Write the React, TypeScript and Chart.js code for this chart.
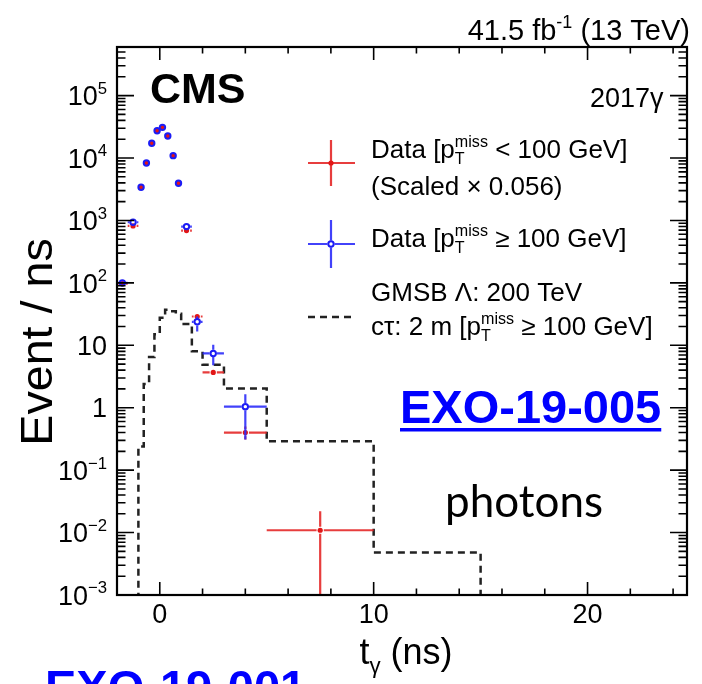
import React, { useEffect, useRef } from 'react';
import { Chart, registerables } from 'chart.js';

Chart.register(...registerables);

// ---------- axis ranges ----------
const X_MIN = -2;
const X_MAX = 24.65;
const Y_MIN = 1e-3;
const Y_MAX = 6e5;
const Y_FLOOR = 1e-6; // zero-content bins are drawn at the floor (below the axis), as ROOT does

// ---------- tick labels ----------
const xTickValues = [0, 10, 20];
const yTickExponents = [-3, -2, -1, 0, 1, 2, 3, 4, 5];

// ---------- data binning (ns) ----------
const binLow = [-2, -1.5, -1, -0.75, -0.5, -0.25, 0, 0.25, 0.5, 0.75, 1, 1.5, 2, 3, 5];
const binHigh = [-1.5, -1, -0.75, -0.5, -0.25, 0, 0.25, 0.5, 0.75, 1, 1.5, 2, 3, 5, 10];
const binCenter = [-1.75, -1.25, -0.875, -0.625, -0.375, -0.125, 0.125, 0.375, 0.625, 0.875, 1.25, 1.75, 2.5, 4, 7.5];

// Data [pT miss < 100 GeV] (scaled x 0.056), events / ns
const redValues = [97, 817, 3400, 8320, 17200, 27400, 31000, 22500, 10900, 3940, 687, 28.9, 3.67, 0.40, 0.0109];
const redErrLow = [90, 800, 3380, 8290, 17160, 27350, 30950, 22460, 10870, 3920, 678, 27.2, 3.25, 0.31, 0];
const redErrHigh = [104, 834, 3420, 8350, 17240, 27450, 31050, 22540, 10930, 3960, 696, 30.6, 4.1, 0.50, 0.0219];

// Data [pT miss >= 100 GeV], events / ns
const blueValues = [100, 935, 3400, 8320, 17200, 27400, 31000, 22500, 10900, 3940, 796, 23.8, 7.4, 1.04, null];
const blueErrLow = [86, 893, 3330, 8220, 17060, 27250, 30850, 22350, 10760, 3860, 756, 16.6, 4.8, 0.31, null];
const blueErrHigh = [114, 977, 3470, 8420, 17340, 27550, 31150, 22650, 11040, 4020, 836, 28.9, 10.2, 1.65, null];

// GMSB Lambda = 200 TeV, c tau = 2 m, [pT miss >= 100 GeV] histogram
const gmsbEdges = [-2, -1.5, -1, -0.75, -0.5, -0.25, 0, 0.25, 0.5, 0.75, 1, 1.5, 2, 3, 5, 10, 15, 25];
const gmsbValues = [0, 0, 0.24, 2.4, 6.5, 15, 27.5, 37, 35, 32, 22, 8, 4.9, 2.04, 0.289, 0.0048, 0];

// ---------- styles ----------
const FONT = '"Liberation Sans", Arial, Helvetica, sans-serif';
const RED = 'rgb(226,22,22)';
const RED_BAR = 'rgba(228,40,40,0.9)';
const BLUE = 'rgb(28,28,245)';
const BLUE_BAR = 'rgba(45,45,250,0.9)';
const MARKER_GAP = 3.6;

type Part = { t?: string; sup?: string; sub?: string };

function partsWidth(ctx: CanvasRenderingContext2D, parts: Part[], size: number, weight = '') {
  let w = 0;
  for (const p of parts) {
    if (p.t !== undefined) {
      ctx.font = `${weight} ${size}px ${FONT}`;
      w += ctx.measureText(p.t).width;
    } else {
      ctx.font = `${weight} ${size * 0.62}px ${FONT}`;
      const a = p.sup ? ctx.measureText(p.sup).width : 0;
      const b = p.sub ? ctx.measureText(p.sub).width : 0;
      w += Math.max(a, b);
    }
  }
  return w;
}

function drawRich(
  ctx: CanvasRenderingContext2D,
  parts: Part[],
  x: number,
  y: number,
  size: number,
  align: 'left' | 'right' | 'center' = 'left',
  color = '#000',
  weight = ''
) {
  const w = partsWidth(ctx, parts, size, weight);
  let cx = align === 'right' ? x - w : align === 'center' ? x - w / 2 : x;
  ctx.save();
  ctx.fillStyle = color;
  ctx.textAlign = 'left';
  ctx.textBaseline = 'alphabetic';
  for (const p of parts) {
    if (p.t !== undefined) {
      ctx.font = `${weight} ${size}px ${FONT}`;
      ctx.fillText(p.t, cx, y);
      cx += ctx.measureText(p.t).width;
    } else {
      ctx.font = `${weight} ${size * 0.62}px ${FONT}`;
      let adv = 0;
      if (p.sup) {
        ctx.fillText(p.sup, cx, y - size * 0.42);
        adv = Math.max(adv, ctx.measureText(p.sup).width);
      }
      if (p.sub) {
        ctx.fillText(p.sub, cx, y + size * 0.24);
        adv = Math.max(adv, ctx.measureText(p.sub).width);
      }
      cx += adv;
    }
  }
  ctx.restore();
}

const errInfo: Record<number, { lo: (number | null)[]; hi: (number | null)[]; v: (number | null)[]; color: string }> = {
  1: { lo: redErrLow, hi: redErrHigh, v: redValues, color: RED_BAR },
  2: { lo: blueErrLow, hi: blueErrHigh, v: blueValues, color: BLUE_BAR },
};

const errorBarPlugin = {
  id: 'errorBars',
  beforeDatasetDraw(chart: any, args: any) {
    const info = errInfo[args.index];
    if (!info) return;
    const { ctx, chartArea } = chart;
    const xs = chart.scales.x;
    const ys = chart.scales.y;
    ctx.save();
    ctx.beginPath();
    ctx.rect(chartArea.left, chartArea.top, chartArea.right - chartArea.left, chartArea.bottom - chartArea.top);
    ctx.clip();
    ctx.strokeStyle = info.color;
    ctx.lineWidth = 2.2;
    ctx.lineCap = 'butt';
    for (let i = 0; i < binCenter.length; i++) {
      const v = info.v[i];
      if (v === null || v === undefined) continue;
      const px = xs.getPixelForValue(binCenter[i]);
      const py = ys.getPixelForValue(v);
      const x0 = xs.getPixelForValue(binLow[i]);
      const x1 = xs.getPixelForValue(binHigh[i]);
      const loV = info.lo[i] as number;
      const hiV = info.hi[i] as number;
      const y0 = ys.getPixelForValue(loV > 0 ? loV : Y_FLOOR);
      const y1 = ys.getPixelForValue(hiV);
      ctx.beginPath();
      if (px - x0 > MARKER_GAP) { ctx.moveTo(x0, py); ctx.lineTo(px - MARKER_GAP, py); }
      if (x1 - px > MARKER_GAP) { ctx.moveTo(px + MARKER_GAP, py); ctx.lineTo(x1, py); }
      if (y0 - py > MARKER_GAP) { ctx.moveTo(px, py + MARKER_GAP); ctx.lineTo(px, y0); }
      if (py - y1 > MARKER_GAP) { ctx.moveTo(px, py - MARKER_GAP); ctx.lineTo(px, y1); }
      ctx.stroke();
    }
    ctx.restore();
  },
};

const framePlugin = {
  id: 'rootFrame',
  afterDraw(chart: any) {
    const { ctx, chartArea } = chart;
    const { left, right, top, bottom } = chartArea;
    const xs = chart.scales.x;
    const ys = chart.scales.y;
    ctx.save();
    // ticks
    ctx.strokeStyle = '#000';
    ctx.lineWidth = 1.6;
    ctx.beginPath();
    for (let t = -2; t <= X_MAX; t += 2) {
      const px = xs.getPixelForValue(t);
      const len = t % 10 === 0 ? 13 : 6.5;
      ctx.moveTo(px, bottom);
      ctx.lineTo(px, bottom - len);
      ctx.moveTo(px, top);
      ctx.lineTo(px, top + len);
    }
    for (let e = -3; e <= 5; e++) {
      for (let k = 1; k <= 9; k++) {
        const v = k * Math.pow(10, e);
        if (v > Y_MAX) break;
        const py = ys.getPixelForValue(v);
        const len = k === 1 ? 17 : 8.5;
        ctx.moveTo(left, py);
        ctx.lineTo(left + len, py);
        ctx.moveTo(right, py);
        ctx.lineTo(right - len, py);
      }
    }
    ctx.stroke();
    // frame
    ctx.lineWidth = 2.2;
    ctx.strokeRect(left, top, right - left, bottom - top);

    // x tick labels
    const tickSize = 27;
    for (const t of xTickValues) {
      drawRich(ctx, [{ t: String(t) }], xs.getPixelForValue(t), bottom + 28, tickSize, 'center');
    }
    // y tick labels
    for (const e of yTickExponents) {
      const py = ys.getPixelForValue(Math.pow(10, e));
      let parts: Part[];
      if (e === 0) parts = [{ t: '1' }];
      else if (e === 1) parts = [{ t: '10' }];
      else parts = [{ t: '10' }, { sup: String(e).replace('-', '\u2212') }];
      drawRich(ctx, parts, left - 10, py + tickSize * 0.36, tickSize, 'right');
    }
    // axis titles
    drawRich(ctx, [{ t: 't' }, { sub: '\u03b3' }, { t: ' (ns)' }], (left + right) / 2 + 4, 664, 36, 'center');
    ctx.save();
    ctx.translate(52, 342);
    ctx.rotate(-Math.PI / 2);
    ctx.scale(1.06, 1);
    drawRich(ctx, [{ t: 'Event / ns' }], 0, 0, 44, 'center');
    ctx.restore();

    // top label
    drawRich(ctx, [{ t: '41.5 fb' }, { sup: '-1' }, { t: ' (13 TeV)' }], 690, 40, 29, 'right');
    // CMS
    drawRich(ctx, [{ t: 'CMS' }], 150, 103, 43, 'left', '#000', 'bold');
    drawRich(ctx, [{ t: '2017\u03b3' }], 590, 107, 27, 'left');

    // legend
    const lx0 = 308, lx1 = 355, lxc = 331;
    const ls = 26;
    // red entry
    ctx.strokeStyle = RED_BAR;
    ctx.lineWidth = 2.2;
    ctx.beginPath();
    ctx.moveTo(lx0, 163); ctx.lineTo(lx1, 163);
    ctx.moveTo(lxc, 140); ctx.lineTo(lxc, 186);
    ctx.stroke();
    ctx.fillStyle = RED;
    ctx.beginPath(); ctx.arc(lxc, 163, 2.6, 0, Math.PI * 2); ctx.fill();
    drawRich(ctx, [{ t: 'Data [p' }, { sup: 'miss', sub: 'T' }, { t: ' < 100 GeV]' }], 371, 158, ls);
    drawRich(ctx, [{ t: '(Scaled \u00d7 0.056)' }], 371, 195, ls);
    // blue entry
    ctx.strokeStyle = BLUE_BAR;
    ctx.beginPath();
    ctx.moveTo(lx0, 244); ctx.lineTo(lxc - MARKER_GAP, 244);
    ctx.moveTo(lxc + MARKER_GAP, 244); ctx.lineTo(lx1, 244);
    ctx.moveTo(lxc, 220); ctx.lineTo(lxc, 244 - MARKER_GAP);
    ctx.moveTo(lxc, 244 + MARKER_GAP); ctx.lineTo(lxc, 268);
    ctx.stroke();
    ctx.strokeStyle = BLUE;
    ctx.lineWidth = 2;
    ctx.beginPath(); ctx.arc(lxc, 244, 2.7, 0, Math.PI * 2); ctx.stroke();
    drawRich(ctx, [{ t: 'Data [p' }, { sup: 'miss', sub: 'T' }, { t: ' \u2265 100 GeV]' }], 371, 247, ls);
    // GMSB entry
    ctx.strokeStyle = '#222';
    ctx.lineWidth = 2.5;
    ctx.setLineDash([7, 5]);
    ctx.beginPath(); ctx.moveTo(lx0, 317); ctx.lineTo(lx1, 317); ctx.stroke();
    ctx.setLineDash([]);
    drawRich(ctx, [{ t: 'GMSB \u039b: 200 TeV' }], 371, 301, ls);
    drawRich(ctx, [{ t: 'c\u03c4: 2 m [p' }, { sup: 'miss', sub: 'T' }, { t: ' \u2265 100 GeV]' }], 371, 335, ls);

    // slide annotations
    ctx.font = `bold 47px ${FONT}`;
    ctx.fillStyle = '#0000ff';
    ctx.textAlign = 'left';
    ctx.textBaseline = 'alphabetic';
    ctx.fillText('EXO-19-005', 400, 423);
    const w5 = ctx.measureText('EXO-19-005').width;
    ctx.fillRect(400, 428, w5, 3.5);
    ctx.fillText('EXO-19-001', 45, 703);
    ctx.font = `44px Lato, "Open Sans", sans-serif`;
    ctx.fillStyle = '#000';
    ctx.fillText('photons', 445, 517);
    ctx.restore();
  },
};

export default function App() {
  const ref = useRef<HTMLCanvasElement>(null);
  useEffect(() => {
    const gmsbPoints = gmsbEdges.map((x, i) => {
      const v = i < gmsbValues.length ? gmsbValues[i] : gmsbValues[gmsbValues.length - 1];
      return { x, y: v > 0 ? v : Y_FLOOR };
    });
    const redPoints = binCenter.map((x, i) => ({ x, y: redValues[i] }));
    const bluePoints = binCenter
      .map((x, i) => ({ x, y: blueValues[i] }))
      .filter((p) => p.y !== null) as { x: number; y: number }[];

    const chart = new Chart(ref.current as HTMLCanvasElement, {
      type: 'scatter',
      data: {
        datasets: [
          {
            type: 'line',
            label: 'GMSB',
            data: gmsbPoints,
            stepped: 'before',
            borderColor: '#222',
            borderWidth: 2.5,
            borderDash: [7, 5],
            pointRadius: 0,
            fill: false,
            order: 3,
          } as any,
          {
            label: 'Data low pTmiss',
            data: redPoints,
            pointRadius: 2.6,
            pointBackgroundColor: RED,
            pointBorderColor: RED,
            pointBorderWidth: 0,
            order: 2,
          },
          {
            label: 'Data high pTmiss',
            data: bluePoints,
            pointRadius: 2.7,
            pointBackgroundColor: 'rgba(0,0,0,0)',
            pointBorderColor: BLUE,
            pointBorderWidth: 2,
            order: 1,
          },
        ],
      },
      options: {
        responsive: false,
        animation: false,
        events: [],
        layout: { padding: { left: 117, right: 15, top: 47, bottom: 89 } },
        scales: {
          x: { type: 'linear', min: X_MIN, max: X_MAX, display: false },
          y: { type: 'logarithmic', min: Y_MIN, max: Y_MAX, display: false },
        },
        plugins: { legend: { display: false }, tooltip: { enabled: false } },
      },
      plugins: [errorBarPlugin, framePlugin],
    });
    return () => chart.destroy();
  }, []);

  return (
    <div style={{ position: 'absolute', left: 0, top: 0, width: 702, height: 684, background: '#fff' }}>
      <canvas ref={ref} width={702} height={684} style={{ display: 'block', width: 702, height: 684 }} />
    </div>
  );
}
